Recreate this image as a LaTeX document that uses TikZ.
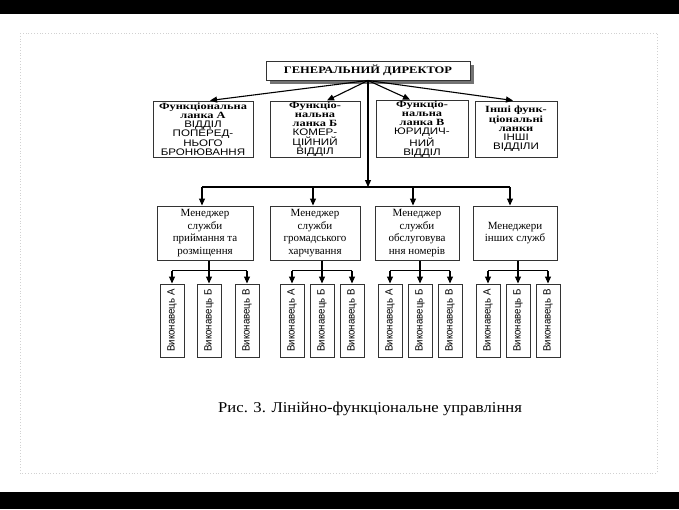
\documentclass[tikz,border=0pt]{standalone}
\usepackage{fontspec}
\setmainfont{Liberation Serif}
\setsansfont{Liberation Sans}
\newfontfamily\wserif[FakeStretch=1.25]{Liberation Serif}
\newfontfamily\fserif[FakeStretch=1.3]{Liberation Serif}
\newfontfamily\wsans[FakeStretch=1.22]{Liberation Sans}
\newfontfamily\esans[FakeStretch=0.92]{Liberation Sans}
\newfontfamily\capfont[FakeStretch=1.11]{Liberation Serif}
\newcommand\fbx[1]{{\fserif\bfseries #1}}
\newcommand\fsx[1]{{\wsans #1}}
\usetikzlibrary{arrows.meta,calc}
\begin{document}
\begin{tikzpicture}[x=1pt,y=-1pt,
  box/.style={draw=black!80, line width=1pt, fill=white, align=center, inner sep=1pt},
  fbox/.style={box, inner sep=0.5pt, minimum height=56pt, font=\fontsize{9.5}{9.2}\selectfont},
  mbox/.style={box, minimum height=54pt, font=\fontsize{11}{12.5}\selectfont},
  ebox/.style={box, minimum width=24pt, minimum height=73pt, font=\esans\fontsize{10.5}{11}\selectfont},
  arr/.style={line width=1.1pt, -{Triangle[length=7pt,width=6pt]}},
  ln/.style={line width=1.1pt}
]
\useasboundingbox (0,0) rectangle (679,509);
\fill[white] (0,0) rectangle (679,509);
\fill[black] (0,0) rectangle (679,14);
\fill[black] (0,492) rectangle (679,509);
\draw[black!18, dotted, line width=0.8pt] (20,33) rectangle (657,473);

% director with shadow
\fill[black!55] (270,65) rectangle (474,84);
\node[box, minimum width=204pt, minimum height=19pt, font=\wserif\bfseries\fontsize{10}{12}\selectfont] (dir) at (368,70.5) {ГЕНЕРАЛЬНИЙ ДИРЕКТОР};

% functional units
\node[fbox, minimum width=100pt] (f1) at (203,129) {\fbx{Функціональна}\\\fbx{ланка А}\\\fsx{ВІДДІЛ}\\\fsx{ПОПЕРЕД-}\\\fsx{НЬОГО}\\\fsx{БРОНЮВАННЯ}};
\node[fbox, minimum width=90pt] (f2) at (315,129) {\fbx{Функціо-}\\\fbx{нальна}\\\fbx{ланка Б}\\\fsx{КОМЕР-}\\\fsx{ЦІЙНИЙ}\\\fsx{ВІДДІЛ}};
\node[fbox, minimum width=92pt] (f3) at (422,129) {\fbx{Функціо-}\\\fbx{нальна}\\\fbx{ланка В}\\\fsx{ЮРИДИЧ-}\\\fsx{НИЙ}\\\fsx{ВІДДІЛ}};
\node[fbox, minimum width=82pt] (f4) at (516,129) {\fbx{Інші функ-}\\\fbx{ціональні}\\\fbx{ланки}\\\fsx{ІНШІ}\\\fsx{ВІДДІЛИ}};

% managers
\node[mbox, minimum width=96pt] (m1) at (205,233) {Менеджер\\служби\\приймання та\\розміщення};
\node[mbox, minimum width=90pt] (m2) at (315,233) {Менеджер\\служби\\громадського\\харчування};
\node[mbox, minimum width=84pt] (m3) at (417,233) {Менеджер\\служби\\обслуговува\\ння номерів};
\node[mbox, minimum width=84pt] (m4) at (515,233) {Менеджери\\інших служб};

% executors
\foreach \g/\xa/\xb/\xc in {1/172/209/247, 2/292/322/352, 3/390/420/450, 4/488/518/548}{
  \node[ebox] (e\g1) at (\xa,320.5) {\rotatebox{90}{Виконавець А}};
  \node[ebox] (e\g2) at (\xb,320.5) {\rotatebox{90}{Виконавець Б}};
  \node[ebox] (e\g3) at (\xc,320.5) {\rotatebox{90}{Виконавець В}};
}

% director -> functional units
\draw[arr] (dir.south) -- ($(f1.north)+(7,0)$);
\draw[arr] (dir.south) -- ($(f2.north)+(12,0)$);
\draw[arr] (dir.south) -- ($(f3.north)+(-12,0)$);
\draw[arr] (dir.south) -- ($(f4.north)+(-3,0)$);

% director -> managers
\coordinate (bus) at (368,187);
\draw[arr] (dir.south) -- (bus);
\coordinate (ma1) at ($(m1.north)+(-3,0)$);
\coordinate (ma2) at ($(m2.north)+(-2,0)$);
\coordinate (ma3) at ($(m3.north)+(-4,0)$);
\coordinate (ma4) at ($(m4.north)+(-5,0)$);
\draw[ln] (ma1 |- bus) -- (ma4 |- bus);
\foreach \i in {1,2,3,4}{
  \draw[arr] (ma\i |- bus) -- (ma\i);
}

% managers -> executors
\foreach \g in {1,2,3,4}{
  \coordinate (b\g) at ($(e\g2.north)+(0,-13)$);
  \draw[arr] (e\g2.north |- m\g.south) -- (e\g2.north);
  \draw[ln] (e\g1.north |- b\g) -- (e\g3.north |- b\g);
  \draw[arr] (e\g1.north |- b\g) -- (e\g1.north);
  \draw[arr] (e\g3.north |- b\g) -- (e\g3.north);
}

% caption
\node[anchor=base west, inner sep=0pt, font=\capfont\fontsize{15}{18}\selectfont] (cap) at (218,412) {Рис. 3. Лінійно-функціональне управління};
\end{tikzpicture}
\end{document}
